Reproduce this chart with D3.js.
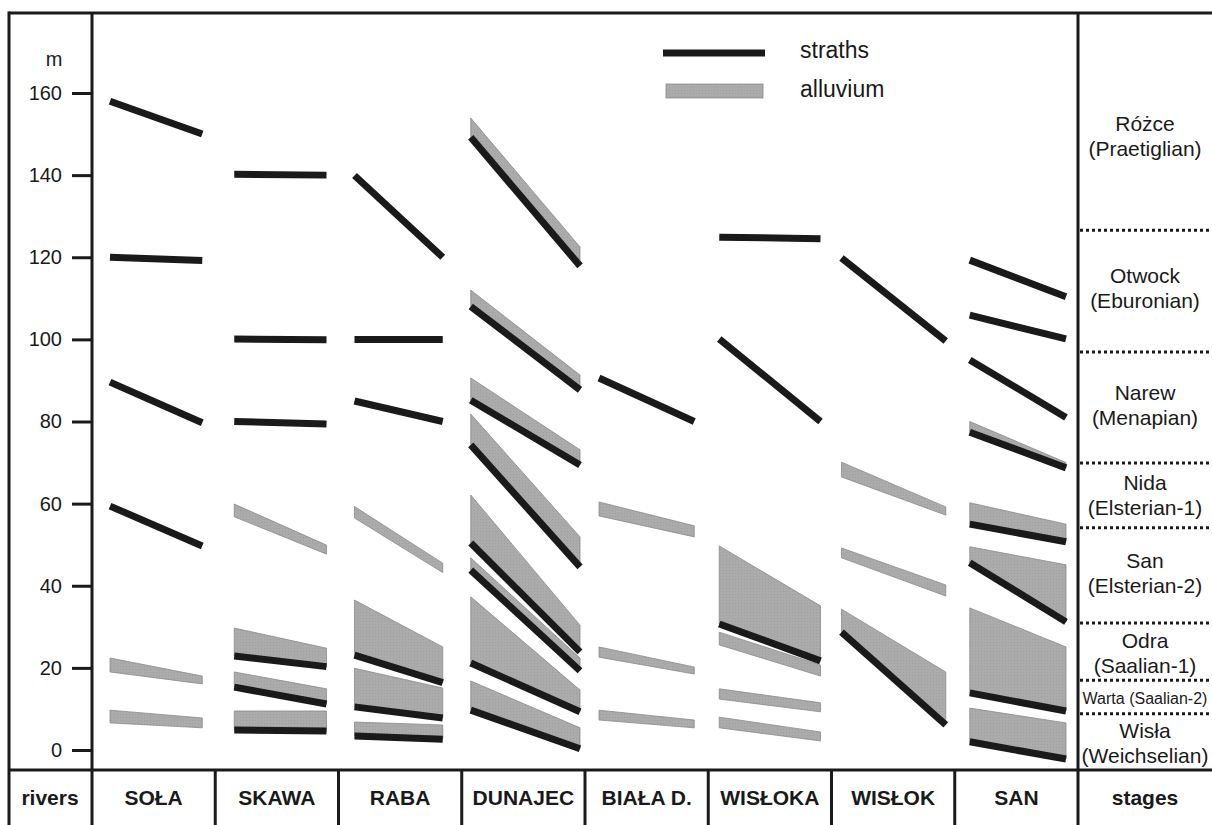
<!DOCTYPE html>
<html>
<head>
<meta charset="utf-8">
<script src="https://cdn.jsdelivr.net/npm/d3@7"></script>
<style>
  body { margin: 0; background: #fff; }
  text { font-family: Arial, "Liberation Sans", sans-serif; fill: #1a1a1a; }
</style>
</head>
<body>
<div id="container"></div>
<script>
// rivers across the bottom
var rivers = ["SOŁA", "SKAWA", "RABA", "DUNAJEC", "BIAŁA D.", "WISŁOKA", "WISŁOK", "SAN"]

// y axis ticks (m)
var yTicks = [0, 20, 40, 60, 80, 100, 120, 140, 160]

// straths per river: [height upstream, height downstream]
var straths = [
  [[158, 150], [120, 119.2], [89.6, 79.7], [59.4, 49.7]],
  [[140.2, 140], [100.1, 99.9], [80, 79.4], [22.9, 20.3], [15.3, 11.2], [4.9, 4.6]],
  [[139.9, 120], [100, 100], [85, 80], [23.1, 16.4], [10.5, 7.8], [3.4, 2.6]],
  [[149.2, 117.9], [108, 87.7], [85.2, 69.4], [74.3, 44.6], [50.4, 23.9], [43.8, 19.3], [21.2, 9.3], [9.7, 0.3]],
  [[90.6, 80]],
  [[124.9, 124.5], [100.1, 80], [30.7, 21.7]],
  [[119.8, 99.6], [28.7, 6.1]],
  [[119.3, 110.4], [105.9, 100.1], [95, 81], [77.4, 68.7], [55, 50.7], [45.6, 31.2], [13.9, 9.5], [2, -2.2]]
]

// alluvium per river: [top left, bottom left, top right, bottom right]
var alluvium = [
  [[22.4, 19, 18, 16.1], [9.7, 6.6, 7.8, 5.4]],
  [[59.9, 56.8, 49.9, 47.7], [29.7, 22.9, 24.8, 20.3], [19, 15.3, 14.9, 11.2], [9.5, 4.9, 9.5, 4.6]],
  [[59.3, 56.5, 45.5, 43.2], [36.5, 23.1, 25.1, 16.4], [19.9, 10.5, 15.1, 7.8], [6.8, 3.4, 6.1, 2.6]],
  [[153.9, 149.2, 122.5, 117.9], [112, 108, 91.3, 87.7], [90.6, 85.2, 73.1, 69.4], [81.8, 74.3, 51.9, 44.6],
   [62.1, 50.4, 30.4, 23.9], [46.8, 43.8, 22.4, 19.3], [37.3, 21.2, 14.6, 9.3], [16.8, 9.7, 5.4, 0.3]],
  [[60.4, 57, 54.6, 51.9], [25.1, 22.6, 20.2, 18.5], [9.7, 7.3, 7.3, 5.4]],
  [[49.7, 30.7, 35.1, 21.7], [28.7, 25.6, 20.7, 18], [14.9, 12.4, 11.5, 9.3], [8, 5.4, 4.4, 2.2]],
  [[70.1, 66.5, 59.2, 57.2], [49.2, 46.8, 40.2, 37.5], [34.3, 28.7, 19, 6.1]],
  [[80, 77.4, 70, 68.7], [60.2, 55, 55, 50.7], [49.5, 45.6, 45.1, 31.2], [34.6, 13.9, 25.1, 9.5], [10.2, 2, 6.6, -2.2]]
]

// stage column: dotted boundaries (m) and labels
var stageBounds = [126.6, 96.9, 69.9, 54.1, 30.9, 17, 8.8]
var stageNames = ["Różce", "Otwock", "Narew", "Nida", "San", "Odra", "Warta (Saalian-2)", "Wisła"]
var stageAges = ["(Praetiglian)", "(Eburonian)", "(Menapian)", "(Elsterian-1)", "(Elsterian-2)", "(Saalian-1)", "", "(Weichselian)"]
var stageLabelAt = [149.6, 112.4, 84.1, 62, 43, 23.7, 12.7, 1.8]

var legendItems = ["straths", "alluvium"]

function drawChart() {
  var width = 1212
  var height = 825
  var ink = "#1a1a1a"
  var gray = "#ababab"

  var svg = d3.select("#container")
    .append("svg")
    .attr("width", width)
    .attr("height", height)

  var defs = svg.append("defs")
  var pat = defs.append("pattern")
    .attr("id", "stipple")
    .attr("width", 3)
    .attr("height", 3)
    .attr("patternUnits", "userSpaceOnUse")
  pat.append("rect").attr("width", 3).attr("height", 3).attr("fill", gray)
  pat.append("rect").attr("width", 1).attr("height", 1).attr("fill", "#a0a0a0")

  var y = d3.scaleLinear().domain([0, 160]).range([750, 93])
  var x = d3.scaleBand().domain(rivers).range([92, 1078])

  // insets of the profiles inside each river column (left, right)
  var insets = [[18, 13], [19, 12], [16, 19], [9, 5], [14, 14], [11, 11], [10, 9], [15, 12]]

  function ends(i) {
    var x0 = x(rivers[i])
    return [x0 + insets[i][0], x0 + x.bandwidth() - insets[i][1]]
  }

  var top = 13
  var bottomRow = 770
  var stageX = 1078

  // frame
  var frame = svg.append("g").attr("stroke", ink).attr("stroke-width", 3)
  frame.append("line").attr("x1", 9).attr("x2", width).attr("y1", top).attr("y2", top)
  frame.append("line").attr("x1", 9).attr("x2", width).attr("y1", bottomRow).attr("y2", bottomRow)
  frame.append("line").attr("x1", 9).attr("x2", 9).attr("y1", top - 1.5).attr("y2", height)
  frame.append("line").attr("x1", 92).attr("x2", 92).attr("y1", top).attr("y2", height)
  frame.append("line").attr("x1", stageX).attr("x2", stageX).attr("y1", top).attr("y2", height)
  frame.selectAll("line.div")
    .data(rivers.slice(1))
    .enter()
    .append("line")
    .attr("class", "div")
    .attr("x1", (d) => x(d))
    .attr("x2", (d) => x(d))
    .attr("y1", bottomRow)
    .attr("y2", height)

  // y axis
  var axis = svg.append("g")
    .attr("transform", "translate(92,0)")
    .call(d3.axisLeft(y).tickValues(yTicks).tickSize(20).tickPadding(10).tickFormat(d3.format("d")))
  axis.select(".domain").remove()
  axis.selectAll(".tick line").attr("stroke", ink).attr("stroke-width", 3)
  axis.selectAll(".tick text")
    .attr("font-size", 20)
    .attr("font-family", "Arial, 'Liberation Sans', sans-serif")
    .attr("fill", ink)
  svg.append("text")
    .attr("x", 54)
    .attr("y", 66)
    .attr("text-anchor", "middle")
    .attr("font-size", 20)
    .text("m")

  // alluvium
  var polys = []
  alluvium.forEach(function(list, i) {
    var e = ends(i)
    list.forEach(function(a) {
      polys.push([[e[0], y(a[0])], [e[1], y(a[2])], [e[1], y(a[3])], [e[0], y(a[1])]])
    })
  })
  svg.append("g")
    .selectAll("path")
    .data(polys)
    .enter()
    .append("path")
    .attr("d", (d) => "M" + d.join("L") + "Z")
    .attr("fill", "url(#stipple)")
    .attr("stroke", "#8a8a8a")
    .attr("stroke-width", 0.8)

  // straths
  var segs = []
  straths.forEach(function(list, i) {
    var e = ends(i)
    list.forEach(function(s) {
      segs.push({ x1: e[0], x2: e[1], y1: y(s[0]), y2: y(s[1]) })
    })
  })
  svg.append("g")
    .selectAll("line")
    .data(segs)
    .enter()
    .append("line")
    .attr("x1", (d) => d.x1)
    .attr("x2", (d) => d.x2)
    .attr("y1", (d) => d.y1)
    .attr("y2", (d) => d.y2)
    .attr("stroke", ink)
    .attr("stroke-width", 7)

  // legend
  var legend = svg.append("g")
  legend.append("line")
    .attr("x1", 663).attr("x2", 765).attr("y1", 53).attr("y2", 53)
    .attr("stroke", ink).attr("stroke-width", 7)
  legend.append("rect")
    .attr("x", 666).attr("y", 84).attr("width", 97).attr("height", 14)
    .attr("fill", "url(#stipple)").attr("stroke", "#8a8a8a").attr("stroke-width", 0.8)
  legend.selectAll("text")
    .data(legendItems)
    .enter()
    .append("text")
    .attr("x", 800)
    .attr("y", (d, i) => 58 + i * 39)
    .attr("font-size", 23)
    .text((d) => d)

  // river names
  var labelY = 805
  svg.append("g")
    .selectAll("text")
    .data(rivers)
    .enter()
    .append("text")
    .attr("x", (d) => x(d) + x.bandwidth() / 2)
    .attr("y", labelY)
    .attr("text-anchor", "middle")
    .attr("font-size", 21)
    .attr("font-weight", "bold")
    .text((d) => d)
  svg.append("text")
    .attr("x", 50).attr("y", labelY)
    .attr("text-anchor", "middle").attr("font-size", 21).attr("font-weight", "bold")
    .text("rivers")
  svg.append("text")
    .attr("x", 1145).attr("y", labelY)
    .attr("text-anchor", "middle").attr("font-size", 21).attr("font-weight", "bold")
    .text("stages")

  // stages
  svg.append("g")
    .selectAll("line")
    .data(stageBounds)
    .enter()
    .append("line")
    .attr("x1", stageX + 2)
    .attr("x2", width)
    .attr("y1", (d) => y(d))
    .attr("y2", (d) => y(d))
    .attr("stroke", ink)
    .attr("stroke-width", 3)
    .attr("stroke-dasharray", "3,3")

  var sg = svg.append("g")
  stageNames.forEach(function(name, i) {
    var cy = y(stageLabelAt[i])
    if (stageAges[i] === "") {
      sg.append("text")
        .attr("x", 1145).attr("y", cy + 6)
        .attr("text-anchor", "middle").attr("font-size", 16)
        .text(name)
    } else {
      sg.append("text")
        .attr("x", 1145).attr("y", cy - 5)
        .attr("text-anchor", "middle").attr("font-size", 21)
        .text(name)
      sg.append("text")
        .attr("x", 1145).attr("y", cy + 20)
        .attr("text-anchor", "middle").attr("font-size", 21)
        .text(stageAges[i])
    }
  })
}

drawChart()
</script>
</body>
</html>
